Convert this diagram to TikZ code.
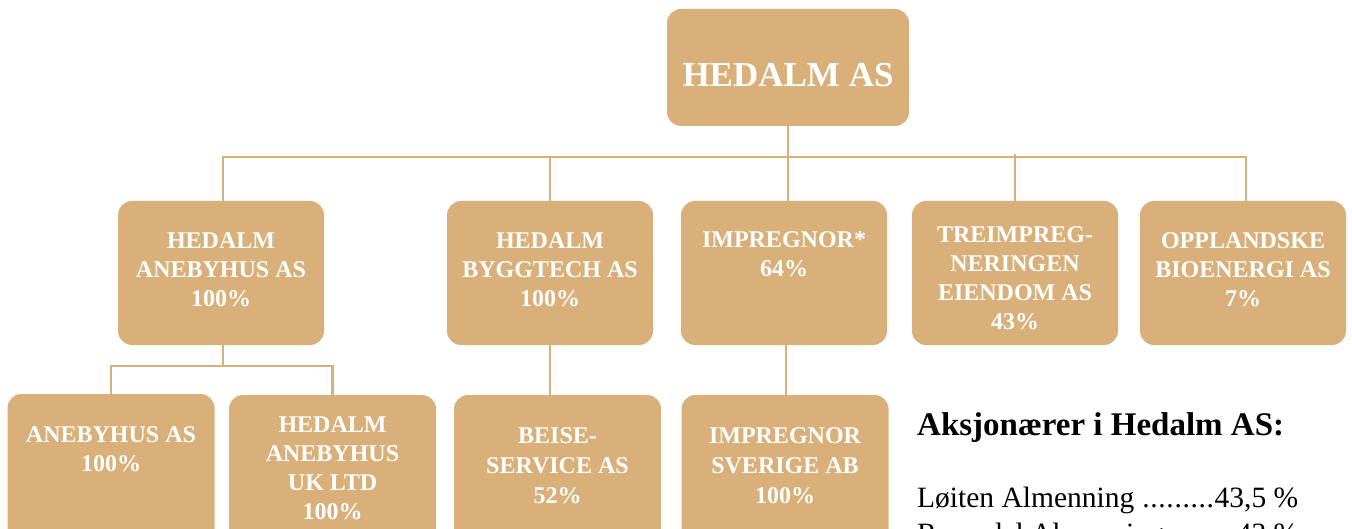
\documentclass[tikz,border=0pt]{standalone}
\usepackage{fontspec}
\setmainfont{Liberation Serif}
\definecolor{hedtan}{RGB}{217,176,122}
\begin{document}
\begin{tikzpicture}[x=1pt,y=-1pt,
  box/.style={fill=hedtan, draw=none, rounded corners=14pt, minimum width=206pt, minimum height=144pt, inner sep=0pt},
  lowbox/.style={box, minimum width=207pt, minimum height=150pt},
  lbl/.style={text=white, font=\bfseries\fontsize{24}{29}\selectfont, align=center, inner sep=0pt, anchor=north},
  conn/.style={draw=hedtan, line width=2.2pt},
  legtxt/.style={anchor=base west, inner sep=0pt, text=black}]
\clip (0,0) rectangle (1352,529);
% top
\node[box, minimum width=242pt, minimum height=117pt] (top) at (788,67.5) {};
\node[text=white, font=\bfseries\fontsize{35}{38}\selectfont, anchor=base, inner sep=0pt] (toptxt) at (788,87) {HEDALM AS};
% level 2
\node[box] (b1) at (221,273) {};
\node[box] (b2) at (550,273) {};
\node[box] (b3) at (784,273) {};
\node[box] (b4) at (1015,273) {};
\node[box] (b5) at (1243,273) {};
\node[lbl] (t1) at ([yshift=-32pt]b1.north) {HEDALM\\ANEBYHUS AS\\100\%};
\node[lbl] (t2) at ([yshift=-32pt]b2.north) {HEDALM\\BYGGTECH AS\\100\%};
\node[lbl] (t3) at ([yshift=-31pt]b3.north) {IMPREGNOR*\\64\%};
\node[lbl] (t4) at ([yshift=-26pt]b4.north) {TREIMPREG-\\NERINGEN\\EIENDOM AS\\43\%};
\node[lbl] (t5) at ([yshift=-32pt]b5.north) {OPPLANDSKE\\BIOENERGI AS\\7\%};
% level 3
\node[lowbox] (c1) at (111,469) {};
\node[lowbox] (c2) at (332.5,470) {};
\node[lowbox] (c3) at (557.5,470) {};
\node[lowbox] (c4) at (785,470) {};
\node[lbl] (s1) at ([yshift=-33pt]c1.north) {ANEBYHUS AS\\100\%};
\node[lbl] (s2) at ([yshift=-22pt]c2.north) {HEDALM\\ANEBYHUS\\UK LTD\\100\%};
\node[lbl, font=\bfseries\fontsize{24}{30}\selectfont] (s3) at ([yshift=-33pt]c3.north) {BEISE-\\SERVICE AS\\52\%};
\node[lbl, font=\bfseries\fontsize{24}{30}\selectfont] (s4) at ([yshift=-33pt]c4.north) {IMPREGNOR\\SVERIGE AB\\100\%};
% connectors
\coordinate (bus) at (0,157);
\coordinate (sub) at (0,366);
\draw[conn] (top.south) -- (top.south |- b3.north);
\draw[conn] ([xshift=2pt]b1.north) -- ([xshift=2pt]b1.north |- bus) -- ([xshift=3pt]b5.north |- bus) -- ([xshift=3pt]b5.north);
\draw[conn] (b2.north) -- (b2.north |- bus);
\draw[conn] (b4.north) -- ([yshift=3pt]b4.north |- bus);
\draw[conn] ([xshift=2pt]b1.south) -- ([xshift=2pt]b1.south |- sub);
\draw[conn] (c1.north) -- (c1.north |- sub) -- (c2.north |- sub) -- (c2.north);
\draw[conn] (b2.south) -- (b2.south |- c3.north);
\draw[conn] ([xshift=2pt]b3.south) -- ([xshift=2pt]b3.south |- c4.north);
% legend
\node[legtxt, font=\bfseries\fontsize{33}{36}\selectfont] (legh) at (917,435) {Aksjonærer i Hedalm AS:};
\node[legtxt, font=\fontsize{29.5}{36}\selectfont] (leg1) at (917,507) {\hbox to 381pt{Løiten Almenning \xleaders\hbox{.}\hfill 43,5 \%}};
\node[legtxt, font=\fontsize{29.5}{36}\selectfont] (leg2) at (917,543) {\hbox to 381pt{Romedal Almenning \xleaders\hbox{.}\hfill 43 \%}};
\end{tikzpicture}
\end{document}
